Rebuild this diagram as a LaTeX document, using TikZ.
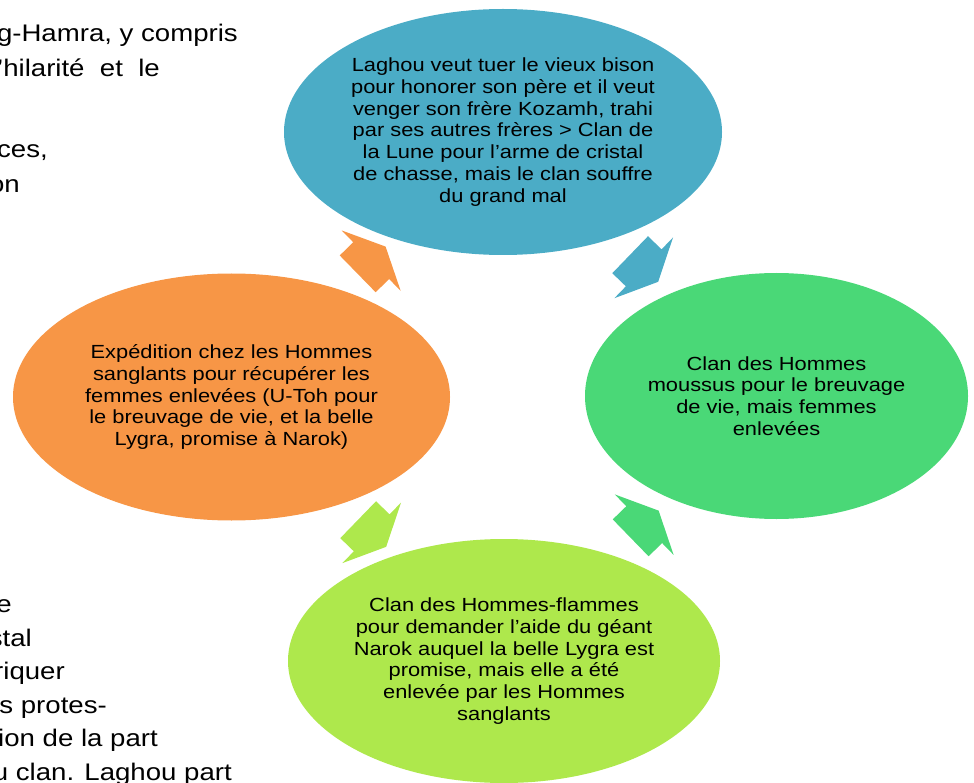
\documentclass[tikz,border=0pt]{standalone}
\usepackage{fontspec}
\setmainfont{Liberation Sans}[FakeStretch=1.15]
\usetikzlibrary{shapes.geometric,shapes.arrows}
\definecolor{lunecol}{HTML}{4BACC6}
\definecolor{mousscol}{HTML}{4AD877}
\definecolor{flamcol}{HTML}{AEE84C}
\definecolor{sangcol}{HTML}{F79646}

\begin{document}
\begin{tikzpicture}[x=1pt,y=1pt]
	\tikzstyle{clan}=[ellipse,inner sep=0pt,align=center,font=\fontsize{19}{21.7}\selectfont]
	\tikzstyle{cycarr}=[single arrow,sloped,inner xsep=0pt,inner ysep=25.5pt,minimum height=39pt,minimum width=84pt,single arrow head extend=16.5pt,single arrow tip angle=129]
	\tikzstyle{side}=[anchor=base east,inner sep=0pt,font=\fontsize{24}{34.5}\selectfont]
	\useasboundingbox (0,0) rectangle (974,-783);
	\clip (0,0) rectangle (974,-783);
	% text of the page behind the diagram
	\node (t1) at (238,-42) [side] {g-Hamra, y compris};
	\node (t2) at (160,-77) [side] {l’hilarité\ \ et\ \ le};
	\node (t3) at (48,-158) [side] {ces,};
	\node (t4) at (20,-193) [side] {on};
	\node (u1) at (12,-612) [side] {e};
	\node (u2) at (32,-646) [side] {stal};
	\node (u3) at (65,-679) [side] {riquer};
	\node (u4) at (107,-713) [side] {s protes-};
	\node (u5) at (158,-746) [side] {ion de la part};
	\node (u6) at (232,-780) [side] {u clan. Laghou part};
	% the four steps
	\node (lune) at (503,-132) [clan,fill=lunecol,minimum width=438pt,minimum height=246pt] {
		Laghou veut tuer le vieux bison\\
		pour honorer son père et il veut\\
		venger son frère Kozamh, trahi\\
		par ses autres frères > Clan de\\
		la Lune pour l’arme de cristal\\
		de chasse, mais le clan souffre\\
		du grand mal};
	\node (moussus) at (776.5,-396) [clan,fill=mousscol,minimum width=383pt,minimum height=246pt] {
		Clan des Hommes\\
		moussus pour le breuvage\\
		de vie, mais femmes\\
		enlevées};
	\node (flammes) at (504,-661) [clan,fill=flamcol,minimum width=432pt,minimum height=244pt] {
		Clan des Hommes-flammes\\
		pour demander l’aide du géant\\
		Narok auquel la belle Lygra est\\
		promise, mais elle a été\\
		enlevée par les Hommes\\
		sanglants};
	\node (sanglants) at (231.5,-397) [clan,fill=sangcol,minimum width=437pt,minimum height=247pt] {
		Expédition chez les Hommes\\
		sanglants pour récupérer les\\
		femmes enlevées (U-Toh pour\\
		le breuvage de vie, et la belle\\
		Lygra, promise à Narok)};
	% arrows of the cycle
	\path (lune.center) -- node (a1) [cycarr,fill=lunecol] {} (moussus.center);
	\path (moussus.center) -- node (a2) [cycarr,fill=mousscol] {} (flammes.center);
	\path (flammes.center) -- node (a3) [cycarr,fill=flamcol] {} (sanglants.center);
	\path (sanglants.center) -- node (a4) [cycarr,fill=sangcol] {} (lune.center);
\end{tikzpicture}
\end{document}
